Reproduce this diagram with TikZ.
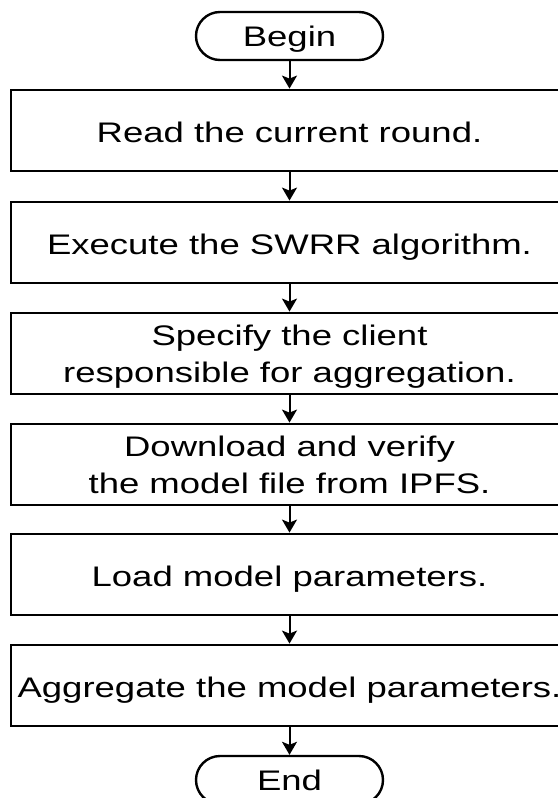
\documentclass[tikz,border=0pt]{standalone}
\usepackage{fontspec}
\setmainfont[FakeStretch=1.29]{Liberation Sans}
\usetikzlibrary{arrows.meta}
\begin{document}
\begin{tikzpicture}[x=1pt,y=-1pt,
  every node/.style={font=\fontsize{28.3}{37}\selectfont},
  terminal/.style={draw, line width=2.4pt, rounded corners=24pt,
    minimum width=187pt, minimum height=48pt, inner sep=0pt,
    text height=20pt, text depth=0pt},
  stepbox/.style={draw, line width=2.8pt, minimum width=557pt,
    minimum height=81pt, inner sep=0pt},
  steptext/.style={anchor=base, inner sep=0pt, align=center},
  flow/.style={line width=2pt, -{Stealth[length=13pt,width=15pt,inset=3pt]}}]
\useasboundingbox (0,0) rectangle (557,798);

% start and end terminals
\node[terminal] (begin) at (289.5,36) {Begin};
\node[terminal] (end) at (289.5,780) {End};

% process steps
\node[stepbox] (s1) at (289.5,130.5) {};
\node[stepbox] (s2) at (289.5,242.5) {};
\node[stepbox] (s3) at (289.5,353.5) {};
\node[stepbox] (s4) at (289.5,464.5) {};
\node[stepbox] (s5) at (289.5,574.5) {};
\node[stepbox] (s6) at (289.5,685.5) {};

% step labels (anchored on the baseline of their last line)
\node[steptext] (t1) at ([yshift=-12pt]s1.center) {Read the current round.};
\node[steptext] (t2) at ([yshift=-12pt]s2.center) {Execute the SWRR algorithm.};
\node[steptext] (t3) at ([yshift=-28.5pt]s3.center) {Specify the client\\responsible for aggregation.};
\node[steptext] (t4) at ([yshift=-28.5pt]s4.center) {Download and verify\\the model file from IPFS.};
\node[steptext] (t5) at ([yshift=-12pt]s5.center) {Load model parameters.};
\node[steptext] (t6) at ([yshift=-12pt]s6.center) {Aggregate the model parameters.};

% flow arrows
\draw[flow] (begin) -- (s1);
\draw[flow] (s1) -- (s2);
\draw[flow] (s2) -- (s3);
\draw[flow] (s3) -- (s4);
\draw[flow] (s4) -- (s5);
\draw[flow] (s5) -- (s6);
\draw[flow] (s6) -- (end);
\end{tikzpicture}
\end{document}
